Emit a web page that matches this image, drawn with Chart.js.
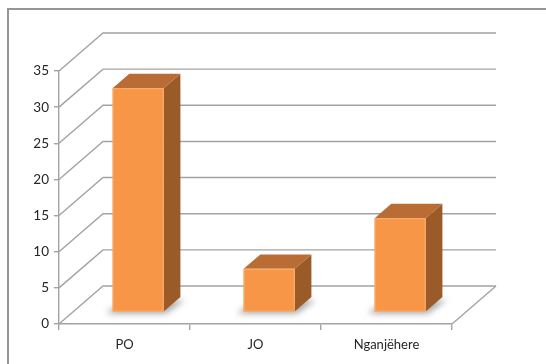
<!DOCTYPE html>
<html>
<head>
<meta charset="utf-8">
<script src="https://cdn.jsdelivr.net/npm/chart.js@4"></script>
<style>
  html, body { margin: 0; padding: 0; background: #ffffff; }
  #wrap { position: relative; width: 546px; height: 364px; overflow: hidden; }
  #frame { position: absolute; left: 7px; top: 8px; width: 600px; height: 420px;
           border: 2px solid #969696; box-sizing: border-box; }
  #c { position: absolute; left: 0; top: 0; }
</style>
</head>
<body>
<div id="wrap">
  <div id="frame"></div>
  <canvas id="c" width="546" height="364"></canvas>
</div>
<script>
// Survey answers
const categories = ['PO', 'JO', 'Nganjëhere'];
const answers = [31, 6, 13];
const yTicks = [0, 5, 10, 15, 20, 25, 30, 35];

// Oblique depth of the plot box (back wall offset)
const DEPTH_X = 44;
const DEPTH_Y = -38;
// Bars sit between these fractions of the depth
const BAR_FRONT = 0.31;
const BAR_BACK = 0.69;

const GRID = '#a3a3a3';

const walls = {
  id: 'walls',
  beforeDatasetsDraw(chart) {
    const { ctx, chartArea: a, scales: { y } } = chart;
    ctx.save();
    ctx.strokeStyle = GRID;
    ctx.lineWidth = 1.4;
    y.ticks.forEach(t => {
      const py = y.getPixelForValue(t.value);
      ctx.beginPath();
      ctx.moveTo(a.left, py);
      ctx.lineTo(a.left + DEPTH_X, py + DEPTH_Y);
      ctx.lineTo(a.right + DEPTH_X, py + DEPTH_Y);
      ctx.stroke();
    });
    // right edge of the floor
    const by = y.getPixelForValue(0);
    ctx.beginPath();
    ctx.moveTo(a.right, by);
    ctx.lineTo(a.right + DEPTH_X, by + DEPTH_Y);
    ctx.stroke();
    ctx.restore();
  }
};

const bars3d = {
  id: 'bars3d',
  afterDatasetsDraw(chart) {
    const { ctx } = chart;
    const meta = chart.getDatasetMeta(0);
    const fx = DEPTH_X * BAR_FRONT, fy = DEPTH_Y * BAR_FRONT;
    const dx = DEPTH_X * (BAR_BACK - BAR_FRONT), dy = DEPTH_Y * (BAR_BACK - BAR_FRONT);
    meta.data.forEach(el => {
      const p = el.getProps(['x', 'y', 'base', 'width'], true);
      const l = p.x - p.width / 2 + fx;
      const r = p.x + p.width / 2 + fx;
      const t = p.y + fy;
      const b = p.base + fy;

      // soft floor shadow
      ctx.save();
      ctx.filter = 'blur(3px)';
      ctx.fillStyle = 'rgba(60,60,60,0.45)';
      ctx.beginPath();
      ctx.moveTo(l - 7, b + 2);
      ctx.lineTo(r + 2, b + 2);
      ctx.lineTo(r + dx + 4, b + dy + 3);
      ctx.lineTo(l + dx - 4, b + dy + 3);
      ctx.closePath();
      ctx.fill();
      ctx.restore();

      ctx.save();
      // side face
      ctx.fillStyle = '#9b5b29';
      ctx.beginPath();
      ctx.moveTo(r, t);
      ctx.lineTo(r + dx, t + dy);
      ctx.lineTo(r + dx, b + dy);
      ctx.lineTo(r, b);
      ctx.closePath();
      ctx.fill();
      // top face
      ctx.fillStyle = '#b96c33';
      ctx.beginPath();
      ctx.moveTo(l, t);
      ctx.lineTo(l + dx, t + dy);
      ctx.lineTo(r + dx, t + dy);
      ctx.lineTo(r, t);
      ctx.closePath();
      ctx.fill();
      // front face
      ctx.fillStyle = '#f79646';
      ctx.fillRect(l, t, r - l, b - t);
      ctx.strokeStyle = '#f9ad6f';
      ctx.lineWidth = 1;
      ctx.strokeRect(l + 0.5, t + 0.5, r - l - 1, b - t - 1);
      ctx.restore();
    });
  }
};

new Chart(document.getElementById('c'), {
  type: 'bar',
  data: {
    labels: categories,
    datasets: [{
      data: answers,
      backgroundColor: 'rgba(0,0,0,0)',
      borderWidth: 0,
      barPercentage: 0.39,
      categoryPercentage: 1
    }]
  },
  options: {
    responsive: false,
    animation: false,
    events: [],
    layout: { padding: { top: 71, right: 94, left: 0, bottom: 0 } },
    plugins: { legend: { display: false }, tooltip: { enabled: false } },
    scales: {
      x: {
        offset: true,
        grid: { display: true, drawOnChartArea: false, offset: true, tickLength: 6, color: GRID, lineWidth: 1.4 },
        border: { display: true, color: GRID, width: 1.4 },
        ticks: { color: '#262626', font: { family: 'Lato', size: 13 }, padding: 7 },
        afterFit(s) { s.height = 40; }
      },
      y: {
        min: 0,
        max: 35,
        afterBuildTicks(s) { s.ticks = yTicks.map(v => ({ value: v })); },
        grid: { display: true, drawOnChartArea: false, tickLength: 5, color: GRID, lineWidth: 1.4 },
        border: { display: true, color: GRID, width: 1.4 },
        ticks: { color: '#262626', font: { family: 'Lato', size: 13.5 }, padding: 5 },
        afterFit(s) { s.width = 59; }
      }
    }
  },
  plugins: [walls, bars3d]
});
</script>
</body>
</html>
